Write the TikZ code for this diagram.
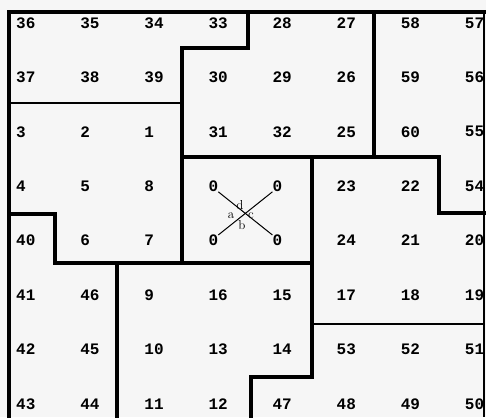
\documentclass[tikz,border=0pt]{standalone}
\usepackage{fontspec}
\newfontfamily\numfont{Liberation Mono}
\usetikzlibrary{calc}
\definecolor{bgc}{RGB}{246,246,246}
\begin{document}
\begin{tikzpicture}[x=1pt,y=-1pt,
  wall/.style={line width=3.2pt,line cap=rect,line join=miter},
  thinwall/.style={line width=2.5pt,line cap=rect},
  faintwall/.style={line width=1.4pt},
  num/.style={font=\numfont\bfseries\fontsize{16}{16}\selectfont,inner sep=0pt,anchor=west},
  lbl/.style={font=\fontsize{13}{13}\selectfont,inner sep=0pt},
  cross/.style={line width=1pt}]
\fill[bgc] (0,0) rectangle (486,417);
\useasboundingbox (0,0) rectangle (486,417);
% numbers
\foreach \row [count=\r from 0] in {
  {36,35,34,33,28,27,58,57},
  {37,38,39,30,29,26,59,56},
  {3,2,1,31,32,25,60,55},
  {4,5,8,0,0,23,22,54},
  {40,6,7,0,0,24,21,20},
  {41,46,9,16,15,17,18,19},
  {42,45,10,13,14,53,52,51},
  {43,44,11,12,47,48,49,50}}{
  \foreach \v [count=\c from 0] in \row {
    \node[num] (n-\r-\c) at ({16+64.1*\c},{23+54.4*\r}) {\v};
  }
}
% boundaries
\draw[wall] (9,417) -- (9,12) -- (484,12);
\draw[faintwall] (484,12) -- (484,417);
\draw[wall] (248,12) -- (248,48) -- (182,48) -- (182,263);
\draw[thinwall] (9,103) -- (182,103);
\draw[wall] (182,157) -- (439,157) -- (439,213) -- (484,213);
\draw[wall] (374,12) -- (374,157);
\draw[wall] (9,214) -- (55,214) -- (55,263) -- (312,263);
\draw[wall] (117,263) -- (117,417);
\draw[wall] (312,157) -- (312,377) -- (251,377) -- (251,417);
\draw[thinwall] (312,324) -- (484,324);
% cross in the centre box
\draw[cross] (n-3-3.south east) -- (n-4-4.north west);
\draw[cross] (n-4-3.north east) -- (n-3-4.south west);
\node[lbl] (ld) at (240,205) {d};
\node[lbl] (la) at (231,216) {a};
\node[lbl] (lc) at (251,216) {c};
\node[lbl] (lb) at (242,225) {b};
\end{tikzpicture}
\end{document}
